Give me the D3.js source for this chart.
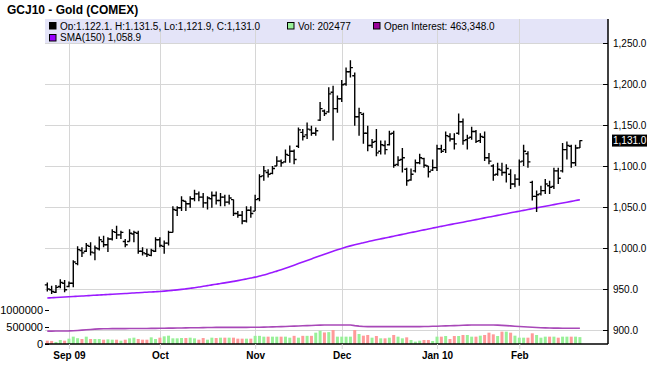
<!DOCTYPE html>
<html><head><meta charset="utf-8">
<script src="https://cdn.jsdelivr.net/npm/d3@7/dist/d3.min.js"></script>
<style>html,body{margin:0;padding:0;background:#fff;}svg{display:block;font-family:"Liberation Sans",Arial,sans-serif;}</style>
</head><body><svg id="c" width="650" height="382"></svg>
<script>
const title = "GCJ10 - Gold (COMEX)";
const dates = [
"2009-08-25","2009-08-26","2009-08-27","2009-08-28","2009-08-31",
"2009-09-01","2009-09-02","2009-09-03","2009-09-04","2009-09-08","2009-09-09","2009-09-10","2009-09-11","2009-09-14","2009-09-15","2009-09-16","2009-09-17","2009-09-18","2009-09-21","2009-09-22","2009-09-23","2009-09-24","2009-09-25","2009-09-28","2009-09-29","2009-09-30",
"2009-10-01","2009-10-02","2009-10-05","2009-10-06","2009-10-07","2009-10-08","2009-10-09","2009-10-12","2009-10-13","2009-10-14","2009-10-15","2009-10-16","2009-10-19","2009-10-20","2009-10-21","2009-10-22","2009-10-23","2009-10-26","2009-10-27","2009-10-28","2009-10-29","2009-10-30",
"2009-11-02","2009-11-03","2009-11-04","2009-11-05","2009-11-06","2009-11-09","2009-11-10","2009-11-11","2009-11-12","2009-11-13","2009-11-16","2009-11-17","2009-11-18","2009-11-19","2009-11-20","2009-11-23","2009-11-24","2009-11-25","2009-11-27","2009-11-30",
"2009-12-01","2009-12-02","2009-12-03","2009-12-04","2009-12-07","2009-12-08","2009-12-09","2009-12-10","2009-12-11","2009-12-14","2009-12-15","2009-12-16","2009-12-17","2009-12-18","2009-12-21","2009-12-22","2009-12-23","2009-12-24","2009-12-28","2009-12-29","2009-12-30","2009-12-31",
"2010-01-04","2010-01-05","2010-01-06","2010-01-07","2010-01-08","2010-01-11","2010-01-12","2010-01-13","2010-01-14","2010-01-15","2010-01-19","2010-01-20","2010-01-21","2010-01-22","2010-01-25","2010-01-26","2010-01-27","2010-01-28","2010-01-29",
"2010-02-01","2010-02-02","2010-02-03","2010-02-04","2010-02-05","2010-02-08","2010-02-09","2010-02-10","2010-02-11","2010-02-12","2010-02-16","2010-02-17","2010-02-18","2010-02-19","2010-02-22"];

const open = [955,949,946,953,957,953,957,981,997,996, 1002,994,999,1008,1004,1011,1019,1016,1008,1008, 1017,1018,996,993,991,996,1010,1002,1006,1019, 1046,1049,1057,1054,1060,1066,1062,1055,1060,1064, 1058,1062,1056,1059,1042,1040,1033,1046,1045,1060, 1088,1092,1091,1100,1106,1105,1113,1118,1124,1141, 1138,1144,1140,1156,1167,1166,1190,1170,1182,1200, 1215,1210,1160,1163,1140,1125,1130,1118,1125,1126, 1140,1102,1108,1096,1083,1094,1104,1109,1100,1095, 1098,1121,1120,1136,1133,1140,1154,1132,1135,1142, 1131,1135,1110,1100,1090,1095,1092,1090,1078,1084, 1106,1115,1080,1063,1066,1070,1076,1075,1094,1094, 1120,1124,1104,1122.1];
const high = [958,954,955,962,961,959,985,1002,1001,1006, 1007,1003,1014,1015,1013,1023,1027,1021,1011,1023, 1021,1021,1001,999,999,1013,1013,1009,1021,1051, 1051,1063,1057,1063,1071,1069,1067,1063,1069,1069, 1067,1065,1065,1059,1045,1045,1051,1051,1065,1090, 1100,1096,1100,1112,1108,1120,1125,1120,1147,1145, 1153,1149,1147,1178,1169,1196,1198,1186,1205,1220, 1229,1214,1171,1165,1149,1133,1145,1131,1131,1143, 1143,1112,1122,1098,1097,1108,1115,1110,1100,1108, 1126,1126,1142,1140,1140,1164,1158,1138,1148,1144, 1140,1142,1116,1102,1104,1104,1102,1096,1090,1108, 1126,1118,1082,1070,1076,1084,1082,1098,1098,1128, 1130,1126,1126,1131.5];
const low = [947,944,945,951,946,952,952,979,989,995, 991,985,997,1001,995,1009,1011,1011,1001,1008, 1007,993,991,989,990,995,1001,993,1003,1019, 1039,1045,1045,1049,1057,1057,1049,1047,1049,1053, 1051,1051,1053,1039,1037,1029,1031,1037,1045,1057, 1082,1086,1090,1100,1099,1104,1104,1102,1122,1131, 1133,1137,1137,1155,1161,1165,1131,1165,1178,1198, 1208,1149,1137,1127,1118,1122,1112,1114,1114,1125, 1098,1100,1092,1076,1082,1092,1102,1098,1086,1094, 1094,1116,1116,1130,1120,1138,1126,1120,1132,1128, 1128,1106,1102,1082,1088,1088,1080,1072,1074,1076, 1100,1098,1058,1044,1064,1066,1066,1072,1078,1092, 1108,1098,1100,1121.9];
const close = [950,947,952,958,949,957,983,998,994,1003, 995,1000,1010,1004,1011,1020,1016,1019,1004,1018, 1019,996,994,992,997,1010,1003,1006,1019,1047, 1049,1058,1054,1060,1066,1062,1055,1061,1064,1058, 1062,1056,1061,1042,1040,1033,1046,1042,1059,1087, 1094,1090,1097,1106,1104,1114,1118,1108,1144,1136, 1145,1140,1143,1170,1164,1188,1170,1182,1199,1215, 1220,1160,1165,1140,1125,1129,1116,1126,1120,1139, 1101,1107,1110,1082,1090,1104,1110,1101,1093,1098, 1121,1118,1137,1133,1127,1154,1131,1134,1142,1130, 1136,1110,1106,1089,1096,1092,1097,1078,1084,1105, 1118,1105,1063,1065,1070,1078,1074,1094,1085,1120, 1125,1104,1122,1131.0];
const volume = [98000,90000,60000,118000,98000,157000,216000,170000,147000,216000, 147000,147000,147000,127000,137000,127000,127000,98000,127000,167000, 186000,147000,127000,127000,196000,147000,186000,226000,245000,167000, 167000,176000,176000,186000,167000,127000,176000,127000,186000,176000, 186000,186000,186000,186000,157000,157000,157000,157000,240000,240000, 216000,216000,216000,216000,216000,216000,186000,240000,186000,240000, 240000,240000,333000,390000,340000,350000,412000,216000,216000,216000, 216000,412000,294000,245000,265000,186000,235000,167000,167000,186000, 265000,216000,167000,196000,118000,69000,98000,118000,118000,88000, 216000,216000,235000,147000,235000,235000,265000,265000,216000,216000, 245000,265000,333000,284000,235000,363000,363000,333000,245000,186000, 186000,186000,314000,265000,186000,216000,216000,216000,186000,216000, 216000,216000,216000,202477];
const openInterest = [380000,380000,381000,382000,383000,385000,390000,398000,408000,418000, 428000,438000,444000,448000,450000,451000,452000,452000,453000,454000, 455000,456000,457000,458000,459000,460000,462000,464000,466000,468000, 470000,472000,474000,476000,478000,480000,482000,484000,486000,488000, 489000,490000,490000,490000,490000,490000,490000,491000,492000,494000, 497000,500000,504000,508000,512000,516000,520000,525000,530000,535000, 540000,545000,550000,555000,558000,560000,560000,560000,560000,560000, 558000,540000,525000,515000,512000,510000,510000,510000,510000,510000, 510000,510000,510000,510000,510000,511000,512000,514000,516000,520000, 524000,528000,532000,536000,540000,545000,550000,555000,558000,560000, 560000,560000,560000,558000,554000,548000,540000,532000,524000,516000, 508000,500000,492000,484000,478000,474000,470000,468000,466000,465000, 464000,464000,463000,463348];
const sma150 = [939.0,939.3,939.6,939.9,940.2,940.5, 940.8,941.1,941.4,941.7,942.1,942.4,942.7,943.0,943.3,943.6,943.9,944.2,944.5,944.8,945.2,945.5,945.8,946.1,946.4,946.7,947.0, 947.4,947.9,948.4,948.9,949.5,950.2,950.9,951.6,952.4,953.3,954.1, 955.0,955.8,956.7,957.5,958.4,959.3,960.2,961.2,962.3,963.4,964.5, 965.8,967.1,968.6,970.1,971.8,973.5,975.3,977.2,979.1,981.0, 982.9,984.8,986.7,988.6,990.5,992.4,994.2,996.0,997.8,999.5, 1001.1,1002.6,1004.0,1005.3,1006.5,1007.7,1008.9,1010.0,1011.1,1012.2,1013.3,1014.4,1015.5,1016.6,1017.7,1018.8,1019.9,1021.0,1022.1,1023.2,1024.3,1025.4, 1026.4,1027.4,1028.5,1029.5,1030.5,1031.5,1032.6,1033.6,1034.6,1035.7,1036.7,1037.7,1038.8,1039.8,1040.8,1041.8,1042.9,1043.9,1044.9, 1045.9,1046.9,1047.9,1048.9,1049.9,1050.9,1051.9,1052.9,1053.9,1054.9,1055.9,1056.9,1057.9,1058.9];
const priceTicks = [900,950,1000,1050,1100,1150,1200,1250];
const volTicks = [0,500000,1000000];
const monthTickDates = ["2009-09-01","2009-10-01","2009-11-02","2009-12-01","2010-01-04","2010-02-01"];
const monthTickLabels = ["Sep 09","Oct","Nov","Dec","Jan 10","Feb"];

const svg = d3.select("#c");
const L = 45, R = 608, T = 19, B = 344;
const x = d3.scalePoint().domain(dates).range([47.3, 579.9]);
const y = d3.scaleLinear().domain([900,1250]).range([330,43]);
const yv = d3.scaleLinear().domain([0,1000000]).range([B,310]);
const n = dates.length, last = n - 1;
const f1 = d3.format(",.1f");

svg.append("text").attr("x",7).attr("y",13.5).attr("font-size",12).attr("font-weight","bold").attr("fill","#000").text(title);

svg.append("rect").attr("x",L).attr("y",T).attr("width",R-L).attr("height",y(1250)-T).attr("fill","#e4e4f8");

svg.append("g").attr("transform",`translate(${R},0)`)
  .call(d3.axisRight(y).tickValues(priceTicks).tickSize(-(R-L)).tickFormat(""))
  .call(g=>{g.select(".domain").remove();g.selectAll("line").attr("stroke","#d6d6d6").attr("shape-rendering","crispEdges");});
svg.append("g").attr("transform",`translate(0,${B})`)
  .call(d3.axisBottom(x).tickValues(monthTickDates).tickSize(-(B-T)).tickFormat(""))
  .call(g=>{g.select(".domain").remove();g.selectAll("line").attr("stroke","#d6d6d6").attr("shape-rendering","crispEdges");});

const legendItems = [
  {row:0, sx:49, tx:60, color:"#000000", text:`Op:${f1(open[last])}, H:${f1(high[last])}, Lo:${f1(low[last])}, C:${f1(close[last])}`},
  {row:0, sx:287, tx:298, color:"#98f098", text:`Vol: ${d3.format("d")(volume[last])}`},
  {row:0, sx:373, tx:384, color:"#990099", text:`Open Interest: ${f1(openInterest[last])}`},
  {row:1, sx:49, tx:60, color:"#9900ff", text:`SMA(150) ${f1(sma150[last])}`}
];
legendItems.forEach(it=>{
  const bg = svg.append("rect").attr("fill","#e4e4f8");
  const t = svg.append("text").attr("x",it.tx).attr("y",it.row?41:29.5).attr("font-size",10).attr("fill","#000").text(it.text);
  const w = t.node().getComputedTextLength();
  bg.attr("x",it.sx-1).attr("y",it.row?30:T).attr("width",w+it.tx-it.sx+3).attr("height",it.row?12.5:11);
  svg.append("rect").attr("x",it.sx+0.5).attr("y",(it.row?34:22)+0.5).attr("width",6.5).attr("height",6.5)
    .attr("fill",it.color).attr("stroke","#000").attr("stroke-width",1);
  t.raise();
});

svg.append("g").selectAll("rect").data(dates).join("rect")
  .attr("x",d=>x(d)-1.5).attr("width",3)
  .attr("y",(d,i)=>yv(volume[i])).attr("height",(d,i)=>B-yv(volume[i]))
  .attr("fill",(d,i)=> (i>0 && close[i]>=close[i-1]) ? "#98f098" : "#ff9a9a");

svg.append("path").datum(dates)
  .attr("d",d3.line().x(d=>x(d)).y((d,i)=>yv(openInterest[i])))
  .attr("fill","none").attr("stroke","#a848b8").attr("stroke-width",1.6);

svg.append("path").datum(dates)
  .attr("d",d3.line().curve(d3.curveMonotoneX).x(d=>x(d)).y((d,i)=>y(sma150[i])))
  .attr("fill","none").attr("stroke","#9a1aff").attr("stroke-width",1.6);

svg.append("g").selectAll("path").data(dates).join("path")
  .attr("d",(d,i)=>{const cx=x(d);return `M${cx},${y(high[i])}V${y(low[i])}M${cx-2.5},${y(open[i])}H${cx}M${cx},${y(close[i])}H${cx+2.5}`;})
  .attr("fill","none").attr("stroke","#000").attr("stroke-width",1.4);

svg.append("line").attr("x1",L).attr("x2",R).attr("y1",B).attr("y2",B).attr("stroke","#000").attr("stroke-width",1.5);
svg.append("g").attr("transform",`translate(0,${B})`)
  .call(d3.axisBottom(x).tickValues(monthTickDates).tickSize(5).tickPadding(3).tickFormat((d,i)=>monthTickLabels[i]))
  .call(g=>{g.select(".domain").remove();g.selectAll("line").attr("stroke","#d6d6d6");
    g.selectAll("text").attr("font-size",10).attr("font-weight","bold").attr("font-family","Liberation Sans, Arial, sans-serif").attr("fill","#000");});

svg.append("line").attr("x1",R).attr("x2",R).attr("y1",T).attr("y2",B).attr("stroke","#000").attr("stroke-width",1.5);
svg.append("g").attr("transform",`translate(${R},0)`)
  .call(d3.axisRight(y).tickValues(priceTicks).tickSize(-5).tickPadding(5).tickFormat(f1))
  .call(g=>{g.select(".domain").remove();g.selectAll("line").attr("stroke","#000");
    g.selectAll("text").attr("font-size",10).attr("font-family","Liberation Sans, Arial, sans-serif").attr("fill","#000");});

const ly = y(close[last]);
svg.append("rect").attr("x",R+4).attr("y",ly-6).attr("width",35).attr("height",12).attr("fill","#000");
svg.append("text").attr("x",R+5).attr("y",ly+3.5).attr("font-size",10).attr("fill","#fff").text(f1(close[last]));

svg.append("g").attr("transform",`translate(${L},0)`)
  .call(d3.axisLeft(yv).tickValues(volTicks).tickSize(-4).tickPadding(2).tickFormat(d3.format("d")))
  .call(g=>{g.select(".domain").remove();g.selectAll("line").attr("stroke","#000");
    g.selectAll("text").attr("font-size",11).attr("font-family","Liberation Sans, Arial, sans-serif").attr("fill","#000");});
</script></body></html>
